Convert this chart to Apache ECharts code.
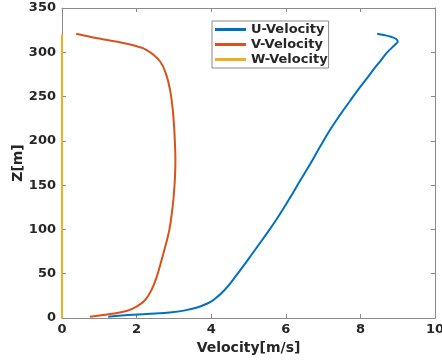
<!DOCTYPE html>
<html><head><meta charset="utf-8">
<script src="https://cdn.jsdelivr.net/npm/echarts@6/dist/echarts.min.js"></script>
<style>html,body{margin:0;padding:0;background:#fff}#c{width:442px;height:364px}</style>
</head><body><div id="c"></div>
<script>
var seriesNames = ['U-Velocity', 'V-Velocity', 'W-Velocity'];
var uX = [1.24, 1.9, 2.5, 2.95, 3.3, 3.6, 3.85, 4.06, 4.36, 4.68, 5.04, 5.4, 5.74, 6.06, 6.37, 6.67, 6.94, 7.18, 7.45, 7.72, 7.98, 8.2, 8.38, 8.55, 8.7, 8.84, 8.94, 9.0, 8.96, 8.82, 8.63, 8.45];
var uZ = [1.5, 3.6, 5.0, 6.6, 8.6, 11.5, 15.5, 20.3, 31.6, 48.5, 69, 90, 110.6, 132, 154, 175, 195, 212, 229, 245, 260, 272, 282, 291, 299, 305, 309, 312, 315, 317.5, 319.5, 321];
var vX = [0.75, 1.29, 1.73, 2.0, 2.23, 2.4, 2.54, 2.67, 2.79, 2.88, 2.95, 3.0, 3.03, 3.04, 3.03, 3.01, 2.97, 2.9, 2.8, 2.63, 2.27, 1.8, 1.4, 1.0, 0.38];
var vZ = [1.5, 4.5, 7.9, 12.8, 20.3, 31.6, 46.6, 65.5, 84, 100, 120, 140, 160, 178, 195, 213, 235, 257, 274, 289.6, 302.5, 309, 312.5, 315.5, 321];
var wX = [0, 0];
var wZ = [0, 320];
var xTicks = [0, 2, 4, 6, 8, 10];
var yTicks = [0, 50, 100, 150, 200, 250, 300, 350];
var xLabel = 'Velocity[m/s]';
var yLabel = 'Z[m]';

function pairs(xs, zs){ return xs.map(function(x,i){ return [x, zs[i]]; }); }
var colors = ['#0072BD', '#D95319', '#EDB120'];
var axisColor = '#8a8a8a';
var txt = '#262626';
var ff = 'DejaVu Sans';

var chart = echarts.init(document.getElementById('c'), null, {renderer:'canvas'});
function baseAxis(extra){
  return Object.assign({
    type:'value',
    nameMoveOverlap:false,
    axisLine:{show:true, onZero:false, lineStyle:{color:axisColor, width:1}},
    axisTick:{show:true, inside:true, length:4, lineStyle:{color:axisColor}},
    splitLine:{show:false}
  }, extra);
}
chart.setOption({
  animation:false,
  backgroundColor:'#fff',
  grid:{left:62, right:7, top:8, bottom:46, containLabel:false, outerBoundsMode:'none'},
  xAxis:[
    baseAxis({position:'bottom', min:xTicks[0], max:xTicks[xTicks.length-1], interval:2,
      name:xLabel, nameLocation:'middle', nameGap:23,
      nameTextStyle:{color:txt, fontFamily:ff, fontWeight:'bold', fontSize:14},
      axisLabel:{color:txt, fontFamily:ff, fontWeight:'bold', fontSize:13, margin:5}}),
    baseAxis({position:'top', min:0, max:10, interval:2, axisLabel:{show:false}})
  ],
  yAxis:[
    baseAxis({position:'left', min:yTicks[0], max:yTicks[yTicks.length-1], interval:50,
      name:yLabel, nameLocation:'middle', nameGap:37, nameRotate:90,
      nameTextStyle:{color:txt, fontFamily:ff, fontWeight:'bold', fontSize:14},
      axisLabel:{color:txt, fontFamily:ff, fontWeight:'bold', fontSize:13, margin:6}}),
    baseAxis({position:'right', min:0, max:350, interval:50, axisLabel:{show:false}})
  ],
  legend:{
    data:seriesNames, orient:'vertical', left:212, top:21,
    padding:[2,1,2,3], itemGap:2,
    borderColor:'#8a8a8a', borderWidth:1, backgroundColor:'#fff',
    icon:'rect', itemWidth:31, itemHeight:3,
    textStyle:{color:txt, fontFamily:ff, fontWeight:'bold', fontSize:13, padding:[0,0,0,0]}
  },
  series:[
    {name:seriesNames[0], type:'line', data:pairs(uX,uZ), smooth:0.4, showSymbol:false, symbol:'none', lineStyle:{width:2, color:colors[0]}, itemStyle:{color:colors[0]}},
    {name:seriesNames[1], type:'line', data:pairs(vX,vZ), smooth:0.4, showSymbol:false, symbol:'none', lineStyle:{width:2, color:colors[1]}, itemStyle:{color:colors[1]}},
    {name:seriesNames[2], type:'line', data:pairs(wX,wZ), showSymbol:false, symbol:'none', clip:false, lineStyle:{width:2, color:colors[2]}, itemStyle:{color:colors[2]}}
  ]
});
</script></body></html>
